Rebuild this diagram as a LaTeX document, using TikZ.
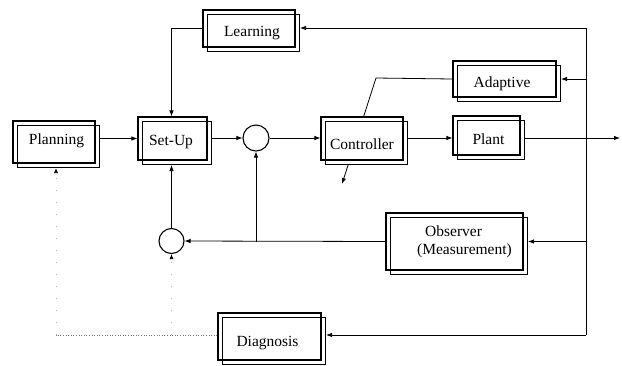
\documentclass[tikz,border=0pt]{standalone}
\usepackage{fontspec}
\setmainfont{Liberation Serif}
\usetikzlibrary{arrows.meta}
\pgfdeclarelayer{background}
\pgfsetlayers{background,main}

\tikzset{
  box/.style={draw, line width=1.1pt, inner sep=0pt},
  boxtext/.style={inner sep=0pt, align=center,
    font=\fontsize{15.5}{18}\selectfont},
  sumc/.style={draw, circle, line width=1.1pt, minimum size=#1, inner sep=0pt},
  conn/.style={line width=0.8pt},
  arr/.style={conn, -{Latex[length=6pt,width=4.5pt]}},
  faintdot/.style={line width=0.7pt, black!55, dash pattern=on 1pt off 1.6pt},
  faintup/.style={line width=0.7pt, black!30, dash pattern=on 1pt off 11pt,
    -{Latex[length=5pt,width=4pt,color=black]}},
}

% double-outlined block: front frame, a copy offset down and right,
% and its label shifted by (dx,dy)
% [#1 label options] #2 name, #3 x, #4 y, #5 width, #6 height, #7 dx, #8 dy, #9 label
\newcommand\dblbox[9][]{%
  \node[box, minimum width=#5pt, minimum height=#6pt] (#2) at (#3,#4) {};
  \node[box, minimum width=#5pt, minimum height=#6pt] (#2s) at (#3+4.5,#4+4.5) {};
  \node[boxtext, #1] (#2t) at (#3+#7,#4+#8) {#9};
}

\begin{document}
\begin{tikzpicture}[x=1pt, y=-1pt]
\useasboundingbox (0,0) rectangle (622,365);

% blocks
\dblbox{Learn}{249}{28.5}{92}{37}{3}{5}{Learning}
\dblbox{Plan}{54}{142}{82}{42}{2.5}{-1}{Planning}
\dblbox{SetUp}{172.5}{138.5}{69}{43}{-1.5}{4}{Set-Up}
\dblbox{Ctrl}{362}{138.5}{82}{43}{0}{6}{Controller}
\dblbox{Plant}{486.5}{135.5}{67}{39}{2}{4}{Plant}
\dblbox{Adapt}{504.5}{79}{103}{36}{-2.5}{4.5}{Adaptive}
\dblbox[align=left]{Obs}{454.5}{241.5}{137}{57}{10}{0}{\hspace*{8pt}Observer\\(Measurement)}
\dblbox{Diag}{269.5}{336.5}{103}{47}{-2}{7}{Diagnosis}

% summing junctions
\node[sumc=26pt] (s1) at (256,138) {};
\node[sumc=25pt] (s2) at (171.5,241) {};

% auxiliary points
\coordinate (out) at (620,138);
\coordinate (bt) at (586,28);
\coordinate (bb) at (586,335);
\coordinate (ak) at (376,78);
\coordinate (akend) at (342,184);
\coordinate (dl) at (56,335);

% forward path
\draw[arr] (Plans.east |- SetUp.west) -- (SetUp.west);
\draw[arr] (SetUps.east |- s1.west) -- (s1.west);
\draw[arr] (s1.east) -- (Ctrl.west |- s1.east);
\draw[arr] (Ctrls.east |- out) -- (Plant.west |- out);
\draw[arr] (Plants.east |- out) -- (out);

% measurement bus on the right
\draw[conn] (bt) -- (bb);
\draw[arr] (bt) -- (Learns.east |- bt);
\draw[arr] (bt |- Adapt.center) -- (Adapts.east |- Adapt.center);
\draw[arr] (bt |- Obs.center) -- (Obss.east |- Obs.center);
\draw[arr] (bb) -- (Diags.east |- bb);

% learning to set-up
\draw[arr] (Learn.west) -- (Learn.west -| s2) -- (s2 |- SetUp.north);

% observer feedback
\draw[arr] (Obs.west) -- (s2.east);
\draw[arr] (s1 |- Obs.west) -- (s1.south);
\draw[arr] (s2.north) -- (s2 |- SetUps.south);

% diagnosis path
\draw[faintdot] (Diag.west |- dl) -- (dl);
\draw[faintup] (dl) -- (dl |- Plans.south);
\draw[faintup] (s2 |- dl) -- (s2.south);

% adaptation acting across the controller
\begin{pgfonlayer}{background}
  \draw[arr] (Adapt.west) -- (ak) -- (akend);
  \fill[white] (Ctrl.north west) rectangle (Ctrls.south east);
\end{pgfonlayer}
\end{tikzpicture}
\end{document}
